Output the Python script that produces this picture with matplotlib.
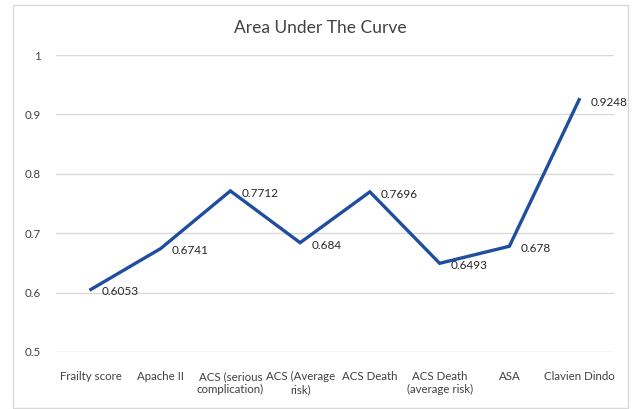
import matplotlib
matplotlib.use("Agg")
import matplotlib.pyplot as plt
from matplotlib.patches import Rectangle

categories = ["Frailty score", "Apache II", "ACS (serious\ncomplication)", "ACS (Average\nrisk)",
              "ACS Death", "ACS Death\n(average risk)", "ASA", "Clavien Dindo"]
auc_values = [0.6053, 0.6741, 0.7712, 0.684, 0.7696, 0.6493, 0.678, 0.9248]
value_labels = ["0.6053", "0.6741", "0.7712", "0.684", "0.7696", "0.6493", "0.678", "0.9248"]
y_ticks = [0.5, 0.6, 0.7, 0.8, 0.9, 1.0]
y_tick_labels = ["0.5", "0.6", "0.7", "0.8", "0.9", "1"]

plt.rcParams['font.family'] = ['Lato', 'DejaVu Sans']

W, H = 634, 409
fig = plt.figure(figsize=(W / 100, H / 100), dpi=100)
fig.patch.set_facecolor("white")

# chart border
fig.patches.append(Rectangle((13 / W, 1 - 408 / H), (628 - 13) / W, (408 - 5) / H,
                             transform=fig.transFigure, fill=False, edgecolor="#d9d9d9", lw=1))

ax = fig.add_axes([56 / W, 57 / H, (614 - 56) / W, (352 - 55) / H])
x = list(range(len(categories)))
ax.plot(x, auc_values, color="#1f4e9e", lw=2.4, solid_joinstyle="miter")
ax.set_xlim(-0.5, len(categories) - 0.5)
ax.set_ylim(0.5, 1.0)
ax.set_yticks(y_ticks)
ax.set_yticklabels(y_tick_labels)
ax.set_xticks(x)
ax.set_xticklabels(categories)
for t in ax.get_xticklabels():
    t.set_multialignment("center")
    t.set_linespacing(1.15)
for s in ax.spines.values():
    s.set_visible(False)
ax.grid(axis="y", color="#d9d9d9", lw=1)
ax.set_axisbelow(True)
ax.tick_params(axis="both", length=0, labelsize=8.3, labelcolor="#404040")
ax.tick_params(axis="x", pad=14)
ax.tick_params(axis="y", pad=11)

for xi, v, lab in zip(x, auc_values, value_labels):
    ax.annotate(lab, (xi, v), xytext=(8, -1), textcoords="offset points",
                ha="left", va="center_baseline", fontsize=8.5, color="#262626")

fig.text(320.5 / W, 1 - 28 / H, "Area Under The Curve", ha="center", va="center",
         fontsize=12.5, color="#404040")

fig.savefig("out.png", dpi=100)
